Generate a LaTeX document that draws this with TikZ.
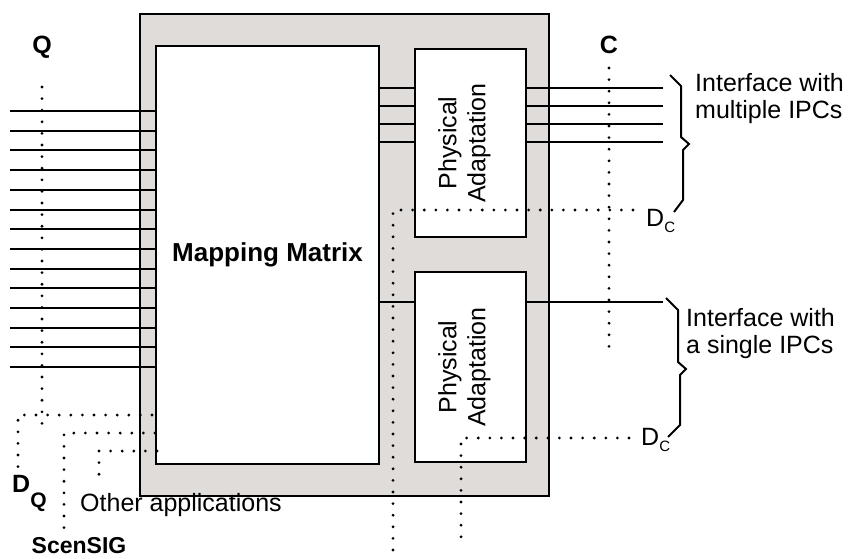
\documentclass[tikz,border=0pt]{standalone}
\usepackage{fontspec}
\setmainfont{Liberation Sans}
\definecolor{framegray}{HTML}{DFDCD9}

\begin{document}
\begin{tikzpicture}[x=1pt,y=-1pt,
        every node/.style={font=\fontsize{25}{27}\selectfont, inner sep=0pt},
        box/.style={draw, line width=2pt, fill=white},
        wire/.style={line width=2pt},
        dots/.style={line width=3.1pt, line cap=round, dash pattern=on 0pt off 11.6pt},
        curly/.style={line width=2pt, line join=miter},
        title/.style={font=\fontsize{26}{28}\selectfont\bfseries}]
    \useasboundingbox (0,0) rectangle (848,559);
    \node[box, fill=framegray, minimum width=409pt, minimum height=482pt] (frame) at (344.5,255) {};
    \node[box, title, minimum width=223pt, minimum height=418pt] (mapping) at (267.5,255) {Mapping Matrix};
    \node[box, minimum width=111pt, minimum height=188pt] (adaptA) at (470.5,143) {};
    \node[box, minimum width=111pt, minimum height=190pt] (adaptB) at (470.5,367) {};
    \node[rotate=90, align=center, font=\fontsize{25}{29}\selectfont] (textA) at ([xshift=-6pt]adaptA.center) {Physical\\Adaptation};
    \node[rotate=90, align=center, font=\fontsize{25}{29}\selectfont] (textB) at ([xshift=-6pt]adaptB.center) {Physical\\Adaptation};

    \foreach \i in {0,...,13} {
        \coordinate (in\i) at (10,111+19.7*\i);
        \draw[wire] (in\i) -- (in\i -| mapping.west);
    }
    \foreach \y in {88,106,124,142} {
        \coordinate (outA\y) at (663,\y);
        \draw[wire] (mapping.east |- outA\y) -- (adaptA.west |- outA\y);
        \draw[wire] (adaptA.east |- outA\y) -- (outA\y);
    }
    \coordinate (outB) at (663,302);
    \draw[wire] (mapping.east |- outB) -- (adaptB.west |- outB);
    \draw[wire] (adaptB.east |- outB) -- (outB);

    \node[title, font=\fontsize{25}{27}\selectfont\bfseries] (labQ) at (42,47) {Q};
    \node[title, font=\fontsize{25}{27}\selectfont\bfseries] (labC) at (609,45) {C};
    \node[title, font=\fontsize{25}{27}\selectfont\bfseries, anchor=base west] (labDQ) at (12,492) {D\raisebox{-15pt}{\fontsize{21}{21}\selectfont Q}};
    \node[title, font=\fontsize{23}{25}\selectfont\bfseries] (labScen) at (79,546) {ScenSIG};
    \node[anchor=west] (labOther) at (80,505) {Other applications};
    \node[anchor=base west] (labDCa) at (646,226) {D\raisebox{-6pt}{\fontsize{15}{15}\selectfont C}};
    \node[anchor=base west] (labDCb) at (641,445) {D\raisebox{-6pt}{\fontsize{15}{15}\selectfont C}};
    \node[anchor=west, align=left] (ifaceA) at (695,99) {Interface with\\multiple IPCs};
    \node[anchor=west, align=left] (ifaceB) at (686,334) {Interface with\\a single IPCs};

    \coordinate (qTop) at (42,87);
    \coordinate (qBot) at (42,433);
    \coordinate (cTop) at (609,68);
    \coordinate (cBot) at (609,357);
    \draw[dots] (qTop) -- (qBot);
    \draw[dots] (cTop) -- (cBot);

    \coordinate (dqA) at (152,415);
    \coordinate (dqB) at (18,415);
    \coordinate (dqC) at (18,470);
    \draw[dots] (dqA) -- (dqB) -- (dqC);
    \coordinate (scA) at (155,433);
    \coordinate (scB) at (64,433);
    \coordinate (scC) at (64,537);
    \draw[dots] (scA) -- (scB) -- (scC);
    \coordinate (otA) at (157,451);
    \coordinate (otB) at (99,451);
    \coordinate (otC) at (99,485);
    \draw[dots] (otA) -- (otB) -- (otC);

    \coordinate (dcaA) at (633,210);
    \coordinate (dcaB) at (393,210);
    \coordinate (dcaC) at (393,550);
    \draw[dots] (dcaA) -- (dcaB) -- (dcaC);
    \coordinate (dcbA) at (629,438);
    \coordinate (dcbB) at (461,438);
    \coordinate (dcbC) at (461,547);
    \draw[dots] (dcbA) -- (dcbB) -- (dcbC);

    \coordinate (braceA) at (670,75);
    \draw[curly] (braceA) -- ++(11,11) -- ++(0,51) -- ++(8,7) -- ++(-6,6) -- ++(0,50) -- ++(-9,12);
    \coordinate (braceB) at (666,298);
    \draw[curly] (braceB) -- ++(12,12) -- ++(0,52) -- ++(8,7) -- ++(-6,6) -- ++(0,50) -- ++(-12,12);
\end{tikzpicture}
\end{document}
